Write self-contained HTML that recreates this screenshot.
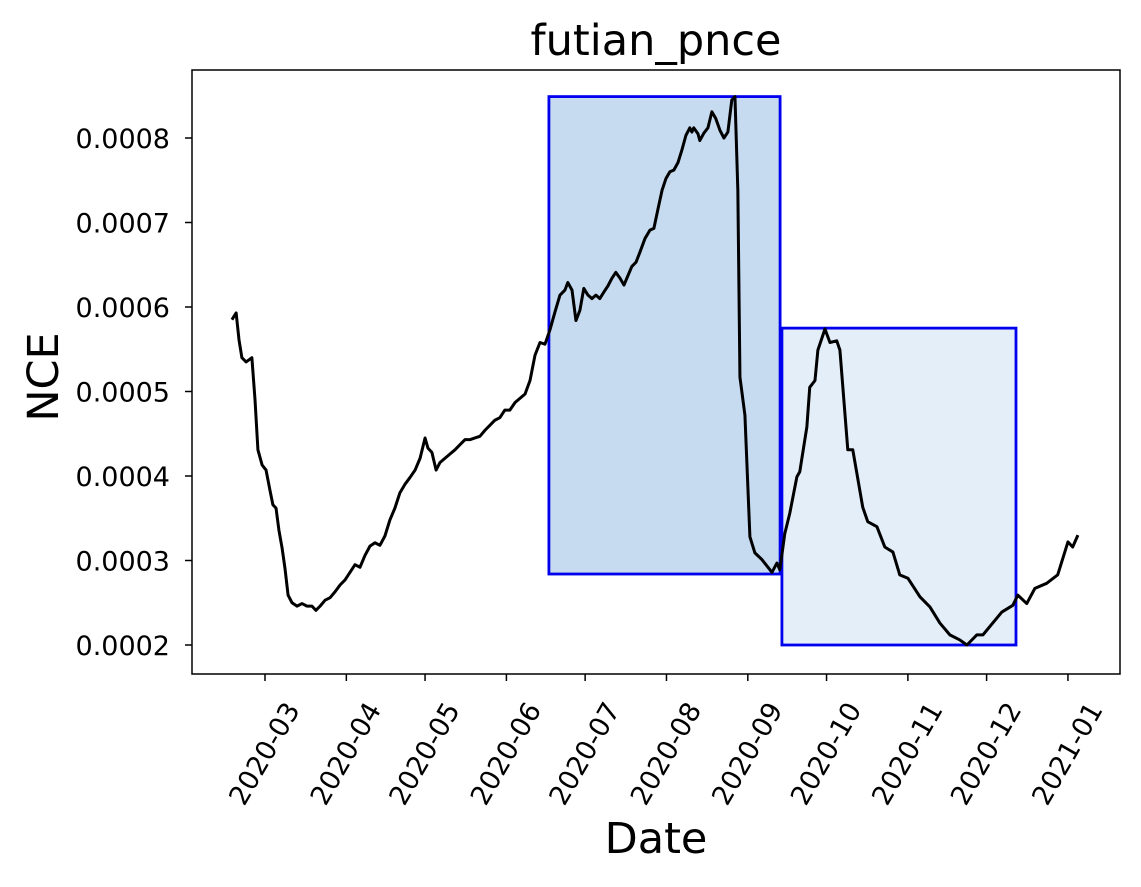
<!DOCTYPE html>
<html><head><meta charset="utf-8"><style>
body{margin:0;background:#fff;}
svg text{font-family:"DejaVu Sans","Liberation Sans",sans-serif;fill:#000;}
</style></head><body>
<svg id="chart" width="1141" height="882" viewBox="0 0 1141 882" xmlns="http://www.w3.org/2000/svg">
<text x="656" y="55" font-size="43" text-anchor="middle">futian_pnce</text>
<text transform="translate(58,377) rotate(-90)" font-size="43" text-anchor="middle">NCE</text>
<text x="656" y="853" font-size="43" text-anchor="middle">Date</text>
<g id="plot"></g>
<rect x="192" y="70" width="928" height="604" fill="none" stroke="#000" stroke-width="1.5"/>
</svg>
<script>
// day-of-year offsets from 2020-01-01
const days=[47.4,49.0,50.1,51.2,52.8,55.0,56.2,57.3,58.9,60.4,61.9,63.0,64.2,65.3,66.5,67.6,68.8,70.3,72.2,74.1,76.0,77.9,79.4,81.0,82.9,84.8,86.7,88.6,90.5,92.4,94.3,96.2,98.1,100.0,101.9,103.8,105.7,107.6,109.5,111.4,113.3,115.2,117.2,119.1,121.0,122.1,123.6,125.2,126.7,128.6,130.5,132.4,134.3,136.2,138.1,140.0,141.9,143.8,145.7,147.6,149.5,151.4,153.3,155.3,157.2,159.1,161.0,162.9,164.8,166.7,168.6,170.5,172.4,174.3,175.4,177.0,178.5,180.0,181.5,183.1,184.6,186.1,187.6,189.2,190.7,192.2,193.7,195.3,196.8,198.3,199.8,201.4,202.9,204.8,206.7,208.2,209.7,211.3,212.8,214.3,215.8,217.4,218.9,220.4,221.9,222.7,223.4,225.0,225.7,227.3,228.8,230.3,231.8,233.4,234.9,236.4,237.9,239.1,240.2,241.0,242.9,244.8,246.7,249.4,253.2,255.1,256.2,258.1,260.0,262.7,263.8,266.5,267.6,269.6,270.7,273.4,275.3,277.9,279.1,282.1,284.0,287.8,289.7,293.2,296.2,299.3,301.9,305.0,309.6,313.4,317.2,321.0,324.8,327.5,331.3,333.6,340.8,345.0,346.9,350.3,353.4,357.9,362.1,366.0,367.8,369.8];
// NCE values in units of 1e-4
const nce=[5.85,5.93,5.61,5.40,5.35,5.40,4.90,4.31,4.13,4.07,3.83,3.66,3.62,3.36,3.15,2.91,2.59,2.50,2.46,2.49,2.46,2.46,2.41,2.46,2.53,2.56,2.63,2.71,2.77,2.86,2.95,2.92,3.06,3.17,3.21,3.18,3.29,3.48,3.62,3.80,3.90,3.98,4.07,4.21,4.45,4.33,4.28,4.07,4.16,4.21,4.26,4.31,4.37,4.43,4.43,4.45,4.47,4.54,4.60,4.66,4.69,4.78,4.78,4.87,4.92,4.97,5.13,5.43,5.58,5.56,5.73,5.94,6.14,6.20,6.29,6.20,5.84,5.96,6.22,6.14,6.10,6.14,6.10,6.18,6.25,6.34,6.41,6.34,6.26,6.37,6.48,6.53,6.65,6.81,6.91,6.93,7.15,7.38,7.52,7.60,7.62,7.71,7.86,8.03,8.12,8.07,8.12,8.05,7.97,8.06,8.12,8.31,8.23,8.09,8.00,8.07,8.45,8.49,7.38,5.17,4.72,3.28,3.09,3.01,2.86,2.97,2.89,3.32,3.56,3.99,4.05,4.58,5.05,5.13,5.49,5.74,5.58,5.60,5.49,4.31,4.31,3.63,3.46,3.40,3.16,3.10,2.83,2.79,2.57,2.45,2.26,2.12,2.06,2.00,2.12,2.12,2.39,2.47,2.59,2.49,2.67,2.73,2.83,3.22,3.16,3.30];
const yTicks=[2,3,4,5,6,7,8];
const yTickLabels=["0.0002","0.0003","0.0004","0.0005","0.0006","0.0007","0.0008"];
const xTickDays=[60,91,121,152,182,213,244,274,305,335,366];
const xTickLabels=["2020-03","2020-04","2020-05","2020-06","2020-07","2020-08","2020-09","2020-10","2020-11","2020-12","2021-01"];
const rectStart=[168.2,257.0];
const rectEnd=[256.3,346.2];
const rectLow=[2.84,2.0];
const rectHigh=[8.49,5.75];
const rectFill=["#c6dbef","#e3eef8"];

const X=d=>265+(d-60)*2.624;
const Y=v=>645-(v-2)*84.5;
const NS="http://www.w3.org/2000/svg";
const g=document.getElementById('plot');
function mk(t,a){const e=document.createElementNS(NS,t);for(const k in a)e.setAttribute(k,a[k]);g.appendChild(e);return e;}
for(let i=0;i<rectStart.length;i++){
  const r=mk('rect',{x:X(rectStart[i]),y:Y(rectHigh[i]),width:X(rectEnd[i])-X(rectStart[i]),height:Y(rectLow[i])-Y(rectHigh[i]),fill:rectFill[i],stroke:'#0000ee','stroke-width':2.8});
  
  
}
const line=mk('polyline',{points:days.map((d,i)=>X(d)+','+Y(nce[i])).join(' '),fill:'none',stroke:'#000','stroke-width':3,'stroke-linejoin':'round'});


yTicks.forEach((v,i)=>{
  const t=mk('line',{x1:185,x2:192,y1:Y(v),y2:Y(v),stroke:'#000','stroke-width':1.5});
  
  
  const l=mk('text',{x:170,y:Y(v)+10,'font-size':27,'text-anchor':'end'});
  l.textContent=yTickLabels[i];
  
  
});
xTickDays.forEach((d,i)=>{
  const x=X(d);
  const t=mk('line',{x1:x,x2:x,y1:674,y2:681,stroke:'#000','stroke-width':1.5});
  
  
  const l=mk('text',{transform:`translate(${x},${754}) rotate(-60)`,'font-size':27,'text-anchor':'middle','dominant-baseline':'central'});
  l.textContent=xTickLabels[i];
  
  
});
</script>
</body></html>
